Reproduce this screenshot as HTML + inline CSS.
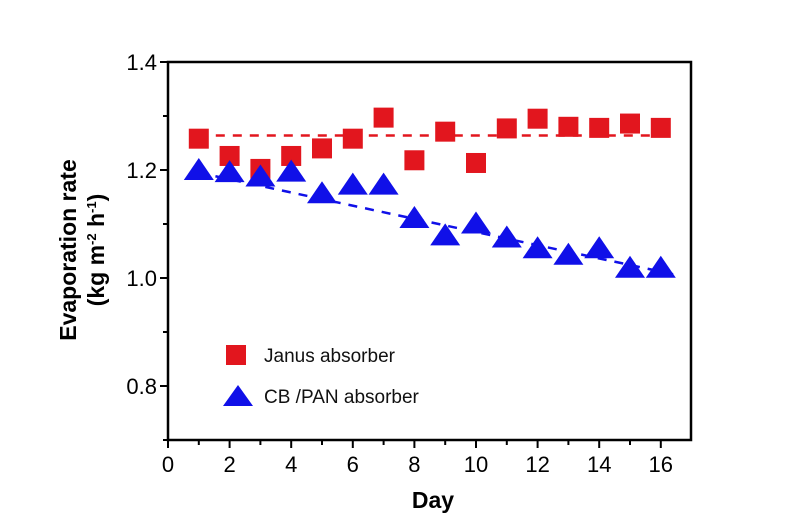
<!DOCTYPE html>
<html><head><meta charset="utf-8"><style>
html,body{margin:0;padding:0;background:#fff;}
svg{display:block;font-family:"Liberation Sans",Arial,sans-serif;}
</style></head><body>
<svg id="chart" width="800" height="530" viewBox="0 0 800 530">
<g id="axes"></g>
<g id="lines"></g>
<g id="marks"></g>
<g>
 <rect x="226" y="345" width="20" height="20" fill="#e2161e"/>
 <text x="264" y="362" font-size="19" fill="#111">Janus absorber</text>
 <polygon points="223,406 238,385 253,406" fill="#1010e8"/>
 <text x="264" y="403" font-size="19" fill="#111">CB /PAN absorber</text>
</g>
<text transform="translate(76,250) rotate(-90)" text-anchor="middle" font-size="23" font-weight="bold">Evaporation rate</text>
<text transform="translate(104,250) rotate(-90)" text-anchor="middle" font-size="23" font-weight="bold">(kg m<tspan font-size="13" dy="-8">-2</tspan><tspan dy="8"> h</tspan><tspan font-size="13" dy="-8">-1</tspan><tspan dy="8">)</tspan></text>
<text x="433" y="508" text-anchor="middle" font-size="23" font-weight="bold">Day</text>
</svg>
<script>
const days = [1,2,3,4,5,6,7,8,9,10,11,12,13,14,15,16];
const janus = [1.258,1.226,1.202,1.226,1.240,1.258,1.297,1.218,1.271,1.213,1.277,1.295,1.280,1.278,1.286,1.278];
const cbpan = [1.200,1.196,1.188,1.197,1.157,1.173,1.173,1.111,1.079,1.101,1.075,1.055,1.043,1.055,1.019,1.019];
const janusFit = [[1,1.264],[16.4,1.264]];
const cbpanFit = [[1,1.195],[16.4,1.007]];
const xTicks = [0,2,4,6,8,10,12,14,16];
const yTicks = [0.8,1.0,1.2,1.4];

const NS="http://www.w3.org/2000/svg";
const X0=168, XS=30.8, Y0=62, YS=540;
const sx=d=>X0+d*XS, sy=v=>Y0+(1.4-v)*YS;
function mk(tag,attrs,parent){const e=document.createElementNS(NS,tag);for(const k in attrs)e.setAttribute(k,attrs[k]);parent.appendChild(e);return e;}
const axes=document.getElementById('axes');
const L=sx(0), R=691, T=sy(1.4), B=sy(0.7);
const frame=mk('rect',{x:L,y:T,width:R-L,height:B-T,fill:'none',stroke:'#000','stroke-width':2.5},axes);


for(let d=0; d<=16; d++){
  const major=d%2===0;
  const t=mk('line',{x1:sx(d),x2:sx(d),y1:B,y2:B+(major?8:5),stroke:'#000','stroke-width':2},axes);
  
  
}
xTicks.forEach(d=>{
  const t=mk('text',{x:sx(d),y:B+32,'text-anchor':'middle','font-size':22},axes);
  t.textContent=d;
  
  
});
for(let v=0.7; v<=1.401; v+=0.1){
  const major=Math.round(v*10)%2===0;
  const t=mk('line',{x1:L-(major?8:5),x2:L,y1:sy(v),y2:sy(v),stroke:'#000','stroke-width':2},axes);
  
  
}
yTicks.forEach(v=>{
  const t=mk('text',{x:L-11,y:sy(v)+8,'text-anchor':'end','font-size':22},axes);
  t.textContent=v.toFixed(1);
  
  
});
const lines=document.getElementById('lines');
const l1=mk('line',{x1:sx(janusFit[0][0]),y1:sy(janusFit[0][1]),x2:sx(janusFit[1][0]),y2:sy(janusFit[1][1]),stroke:'#e2161e','stroke-width':2.5,'stroke-dasharray':'9,8'},lines);


const l2=mk('line',{x1:sx(cbpanFit[0][0]),y1:sy(cbpanFit[0][1]),x2:sx(cbpanFit[1][0]),y2:sy(cbpanFit[1][1]),stroke:'#1010e8','stroke-width':2.5,'stroke-dasharray':'9,8'},lines);


const marks=document.getElementById('marks');
days.forEach((d,i)=>{
  const r=mk('rect',{x:sx(d)-10,y:sy(janus[i])-10,width:20,height:20,fill:'#e2161e'},marks);
  
  
});
days.forEach((d,i)=>{
  const cx=sx(d), cy=sy(cbpan[i]);
  const p=mk('polygon',{points:`${cx-15},${cy+10} ${cx},${cy-12} ${cx+15},${cy+10}`,fill:'#1010e8'},marks);
  
  
});
</script>
</body></html>
